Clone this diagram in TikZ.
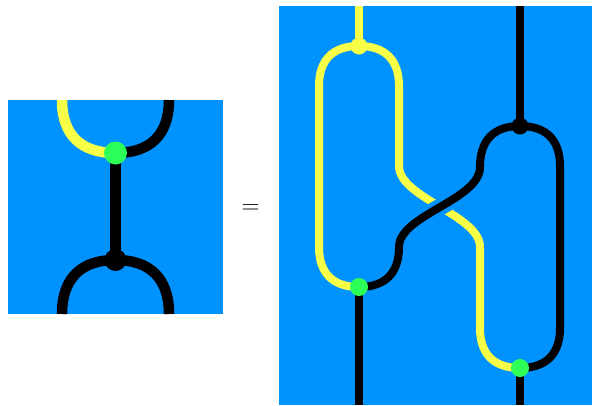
\documentclass[tikz,border=0pt]{standalone}
\usepackage{amsmath}
\usetikzlibrary{backgrounds}
\definecolor{panelblue}{RGB}{0,146,255}
\definecolor{wireyellow}{RGB}{247,255,70}
\definecolor{dotgreen}{RGB}{44,255,88}

\begin{document}
\begin{tikzpicture}[
		x=1pt,y=-1pt,
		looseness=1.18,
		panel/.style={fill=panelblue},
		dot/.style={circle,inner sep=0pt},
		bigdot/.style={dot,minimum size=23pt},
		smalldot/.style={dot,minimum size=17pt},
		thick wire/.style={line width=10.5pt},
		thin wire/.style={line width=8pt},
		over/.style={preaction={draw=panelblue,line width=17pt}}
		]
		\useasboundingbox (0,0) rectangle (592,405);
		% left side
		\node[bigdot,fill=dotgreen] (lgreen) at (115.5,153) {};
		\node[bigdot,fill=black,minimum size=22pt] (lblack) at (115.5,260) {};
		\coordinate (ltl) at (62,100);
		\coordinate (ltr) at (169,100);
		\coordinate (lbl) at (62,314);
		\coordinate (lbr) at (169,314);
		% right side
		\node[smalldot,fill=wireyellow] (ryellow) at (359,46) {};
		\node[smalldot,fill=black] (rblack) at (520,126) {};
		\node[smalldot,fill=dotgreen,minimum size=18pt] (rgreena) at (359,287) {};
		\node[smalldot,fill=dotgreen,minimum size=18pt] (rgreenb) at (520,368) {};
		\coordinate (ytop) at (359,6);
		\coordinate (btop) at (520,6);
		\coordinate (bota) at (359,405);
		\coordinate (botb) at (520,405);
		\coordinate (yl1) at (319,86);
		\coordinate (yl2) at (319,247);
		\coordinate (yr1) at (399,86);
		\coordinate (yr2) at (399,166);
		\coordinate (ys1) at (480,247);
		\coordinate (ys2) at (480,328);
		\coordinate (bs1) at (399,247);
		\coordinate (bs2) at (480,167);
		\coordinate (br1) at (560,166);
		\coordinate (br2) at (560,328);
		\node at (250.5,209.5) {\fontsize{33}{33}\selectfont $=$};
		\begin{pgfonlayer}{background}
			\fill[panel] (8,100) rectangle (223,314);
			\fill[panel] (279,6) rectangle (592,405);
			\draw[thick wire,wireyellow] (ltl) to[out=-90,in=180] (lgreen.center);
			\draw[thick wire] (ltr) to[out=-90,in=0] (lgreen.center);
			\draw[thick wire] (lgreen.center) -- (lblack.center);
			\draw[thick wire] (lbl) to[out=90,in=180] (lblack.center);
			\draw[thick wire] (lbr) to[out=90,in=0] (lblack.center);
			\draw[thin wire,wireyellow] (ytop) -- (ryellow.center);
			\draw[thin wire,wireyellow] (ryellow.center) to[out=180,in=90] (yl1) -- (yl2) to[out=-90,in=180] (rgreena.center);
			\draw[thin wire,wireyellow] (ryellow.center) to[out=0,in=90] (yr1) -- (yr2) .. controls (399,198) and (480,215) .. (ys1) -- (ys2) to[out=-90,in=180] (rgreenb.center);
			\draw[thin wire,over] (bs1) .. controls (399,215) and (480,200) .. (bs2);
			\draw[thin wire] (rgreena.center) to[out=0,in=-90] (bs1);
			\draw[thin wire] (bs2) to[out=90,in=180] (rblack.center);
			\draw[thin wire] (btop) -- (rblack.center);
			\draw[thin wire] (rblack.center) to[out=0,in=90] (br1) -- (br2) to[out=-90,in=0] (rgreenb.center);
			\draw[thin wire] (rgreena.center) -- (bota);
			\draw[thin wire] (rgreenb.center) -- (botb);
		\end{pgfonlayer}
	\end{tikzpicture}
\end{document}
